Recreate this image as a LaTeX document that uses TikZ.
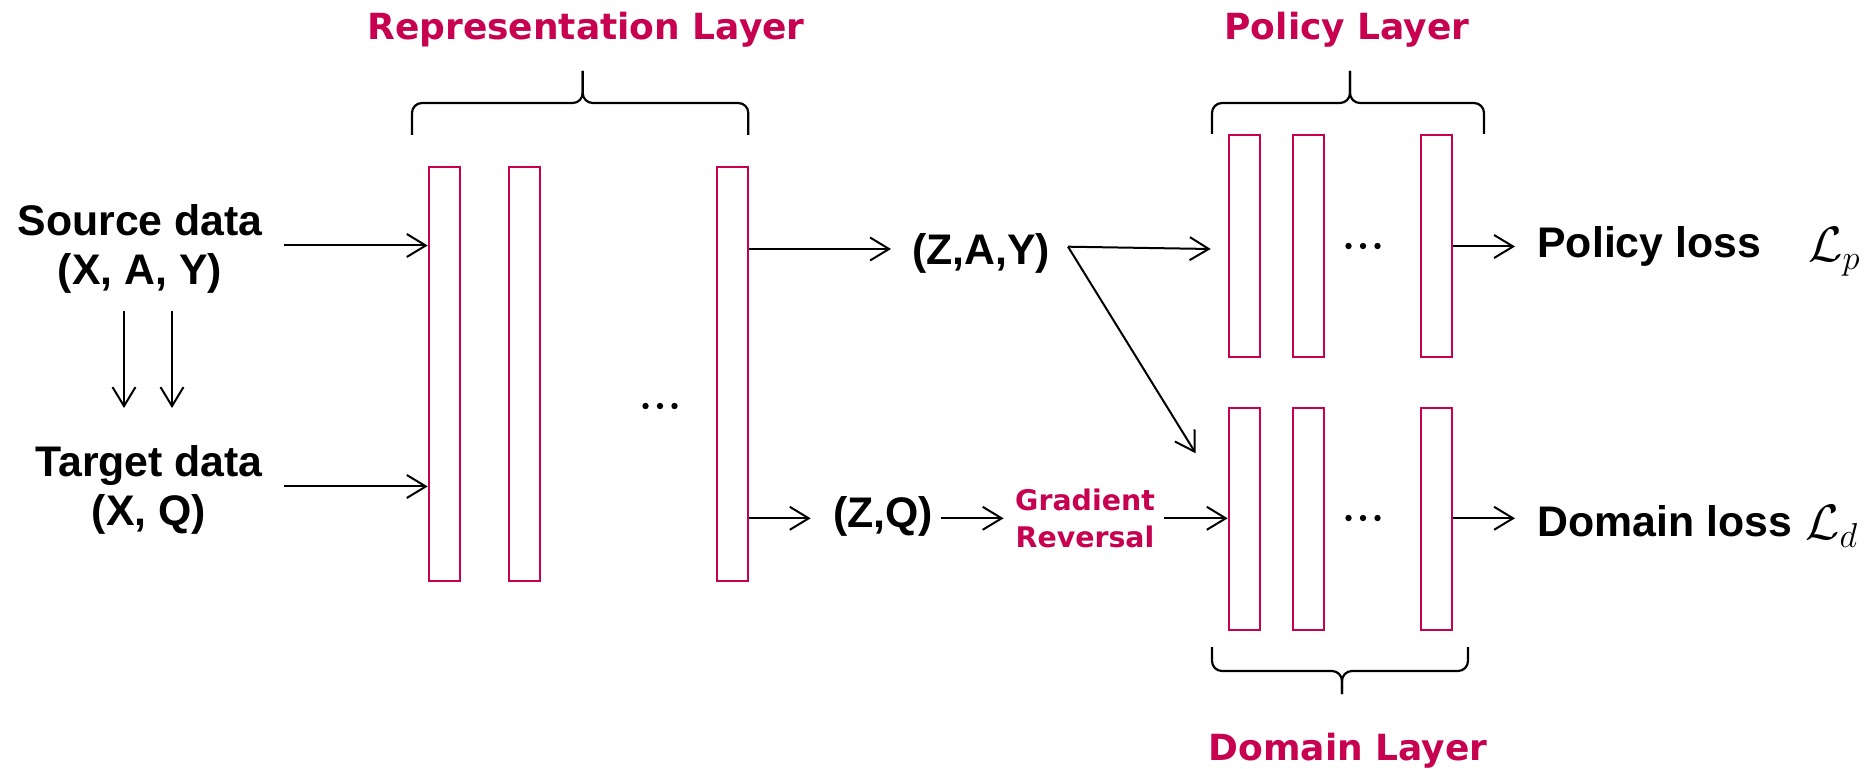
\documentclass[tikz,border=0pt]{standalone}
\usepackage{fontspec}
\setmainfont{Liberation Sans}
\newfontfamily\titlefont{DejaVu Sans}
\usetikzlibrary{arrows.meta}
\definecolor{accent}{RGB}{200,0,80}
\begin{document}
\begin{tikzpicture}[x=0.5pt,y=-0.5pt,
  arr/.style={-{Straight Barb[length=9.5pt,width=11.5pt,line width=1pt]},line width=1pt,black},
  layer/.style={draw=accent,line width=1pt,minimum width=15.5pt,inner sep=0pt},
  replayer/.style={layer,minimum height=207.3pt},
  headlayer/.style={layer,minimum height=111pt},
  bracestyle/.style={line width=1.1pt,rounded corners=5pt},
  lbl/.style={font=\fontsize{21.4pt}{24.5pt}\selectfont\bfseries,inner sep=0pt,align=center},
  ttl/.style={font=\titlefont\fontsize{18pt}{18pt}\selectfont\bfseries,text=accent,inner sep=0pt},
  grl/.style={font=\titlefont\fontsize{14.2pt}{18.3pt}\selectfont\bfseries,text=accent,inner sep=0pt,align=center},
  lossmath/.style={font=\fontsize{26pt}{26pt}\selectfont,inner sep=0pt}]

% canvas
\fill[white] (0,0) rectangle (1868,769);
\useasboundingbox (0,0) rectangle (1868,769);

% input labels
\node[lbl,anchor=north] (src) at (140,204) {Source data\\(X, A, Y)};
\node[lbl,anchor=north] (tgt) at (149,445) {Target data\\(X, Q)};

% representation layers
\node[replayer] (r1) at (444.2,374) {};
\node[replayer] (r2) at (524.4,374) {};
\node[replayer] (r3) at (732.2,374) {};
\coordinate (rdots) at (660,406);
\foreach \d in {-14.5,0,14.5} \fill ([xshift=\d*0.5pt]rdots) circle (1.6pt);

% policy layers
\node[headlayer] (p1) at (1244.2,246.5) {};
\node[headlayer] (p2) at (1308.4,246.5) {};
\node[headlayer] (p3) at (1436.2,246.5) {};
\coordinate (pdots) at (1363,246);
\foreach \d in {-14.5,0,14.5} \fill ([xshift=\d*0.5pt]pdots) circle (1.6pt);

% domain layers
\node[headlayer] (d1) at (1244.2,518.7) {};
\node[headlayer] (d2) at (1308.4,518.7) {};
\node[headlayer] (d3) at (1436.2,518.7) {};
\coordinate (ddots) at (1363,518);
\foreach \d in {-14.5,0,14.5} \fill ([xshift=\d*0.5pt]ddots) circle (1.6pt);

% intermediate labels
\node[lbl,anchor=base] (zay) at (981,265) {(Z,A,Y)};
\node[lbl,anchor=base] (zq) at (883,528) {(Z,Q)};
\node[grl,anchor=north] (gr) at (1085,489) {Gradient\\Reversal};

% outputs
\node[lbl,anchor=base west] (ploss) at (1537,258) {Policy loss};
\node[lbl,anchor=base west] (dloss) at (1537,537) {Domain loss};
\node[lossmath,anchor=base west] (lp) at (1808,262) {$\mathcal{L}_p$};
\node[lossmath,anchor=base west] (ld) at (1805,540) {$\mathcal{L}_d$};

% titles
\node[ttl,anchor=base] (trep) at (586,40) {Representation Layer};
\node[ttl,anchor=base] (tpol) at (1347,40) {Policy Layer};
\node[ttl,anchor=base] (tdom) at (1348,760) {Domain Layer};

% braces
\draw[bracestyle] (412,135) -- (412,103) -- (582.7,103) -- (582.7,71);
\draw[bracestyle] (748.3,135) -- (748.3,103) -- (582.7,103) -- (582.7,71);
\draw[bracestyle] (1212,134) -- (1212,103) -- (1350,103) -- (1350,71);
\draw[bracestyle] (1484,134) -- (1484,103) -- (1350,103) -- (1350,71);
\draw[bracestyle] (1212,647) -- (1212,671) -- (1342,671) -- (1342,694);
\draw[bracestyle] (1468,647) -- (1468,671) -- (1342,671) -- (1342,694);

% connector end points
\coordinate (s0) at (284,245.5);
\coordinate (t0) at (284,486.5);
\coordinate (a0) at (124,311);
\coordinate (a1) at (124,408);
\coordinate (b0) at (172,311);
\coordinate (b1) at (172,408);
\coordinate (zay0) at (891,249);
\coordinate (zay1) at (1068,246.7);
\coordinate (pin) at (1210.7,249);
\coordinate (din) at (1195.7,453.3);
\coordinate (zq0) at (810.7,518.3);
\coordinate (zq1) at (941,518.3);
\coordinate (gr0) at (1003.6,518.3);
\coordinate (gr1) at (1164,518.3);
\coordinate (pl0) at (1515,246.5);
\coordinate (dl0) at (1515,518.3);

% connectors
\draw[arr] (s0) -- (s0 -| r1.west);
\draw[arr] (t0) -- (t0 -| r1.west);
\draw[arr] (a0) -- (a1);
\draw[arr] (b0) -- (b1);
\draw[arr] (zay0 -| r3.east) -- (zay0);
\draw[arr] (zq0 -| r3.east) -- (zq0);
\draw[arr] (zq1) -- (gr0);
\draw[arr] (gr1) -- (gr1 -| d1.west);
\draw[arr] (zay1) -- (pin);
\draw[arr] (zay1) -- (din);
\draw[arr] (pl0 -| p3.east) -- (pl0);
\draw[arr] (dl0 -| d3.east) -- (dl0);
\end{tikzpicture}
\end{document}
